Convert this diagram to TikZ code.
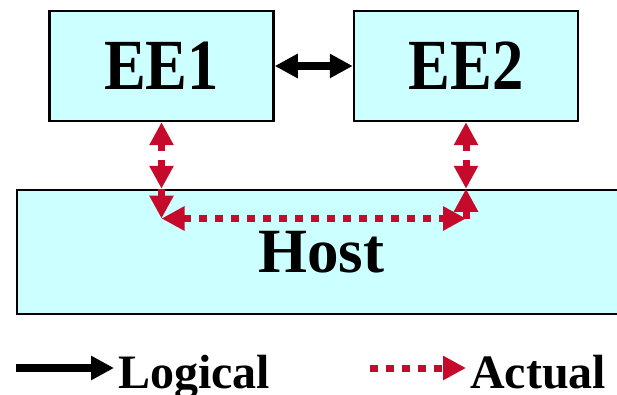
\documentclass[tikz,border=0pt]{standalone}
\usepackage{fontspec}
\setmainfont{Liberation Serif}
\usepackage{graphicx}
\usetikzlibrary{arrows.meta,positioning}
\definecolor{boxcyan}{RGB}{204,255,255}
\definecolor{actualred}{RGB}{198,10,44}

\begin{document}
\begin{tikzpicture}[x=1pt,y=1pt,
 >={Triangle[length=23pt,width=23pt]},
 box/.style={draw=black,line width=2.5pt,fill=boxcyan,inner sep=0pt},
 logical/.style={line width=7.5pt,black},
 actual/.style={line width=7pt,actualred,dash pattern=on 7.5pt off 8.5pt},
 legendtxt/.style={font=\bfseries\fontsize{48}{48}\selectfont,inner sep=4pt,anchor=base west}]
\clip (0,0) rectangle (617,394);
% ---------- execution environments and host
\node[box,minimum width=224pt,minimum height=110pt,font=\bfseries\fontsize{72}{72}\selectfont] (ee1) at (161.5,328){\scalebox{0.87}[1]{EE1}};
\node[box,minimum width=224pt,minimum height=110pt,font=\bfseries\fontsize{72}{72}\selectfont] (ee2) at (466,328){\scalebox{0.87}[1]{EE2}};
\node[box,minimum width=608pt,minimum height=124pt,font=\bfseries\fontsize{63}{63}\selectfont] (host) at (321,142){Host};
\draw[logical,<->] (ee1) -- (ee2);
% ---------- actual path through the host
\coordinate (hy) at (0,175.5);
\coordinate (hl) at (ee1.south |- hy);
\coordinate (hr) at (ee2.south |- hy);
\draw[actual,<->] (ee1.south) -- (ee1.south |- host.north);
\draw[actual,<->] (ee2.south) -- (ee2.south |- host.north);
\draw[actual,->] (ee1.south |- host.north) -- (hl);
\draw[actual,<->] (hl) -- (hr);
\draw[actual,->] (hr) -- (ee2.south |- host.north);
% ---------- legend
\node[legendtxt] (logtxt) at (114,6){Logical};
\node[legendtxt] (acttxt) at (466,6){Actual};
\coordinate (logstart) at (16,26);
\coordinate (actstart) at (370,26);
\draw[logical,->] (logstart) -- (logtxt.west |- logstart);
\draw[actual,->] (actstart) -- (acttxt.west |- actstart);
\end{tikzpicture}
\end{document}
